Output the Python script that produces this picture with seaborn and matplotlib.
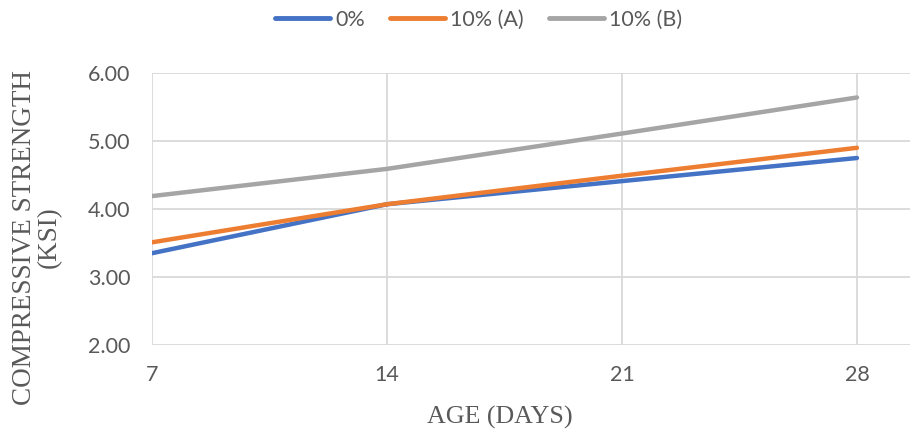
import matplotlib
matplotlib.use("Agg")
import matplotlib.pyplot as plt
import seaborn as sns
import pandas as pd

days = [7, 14, 21, 28]
mix_0 = [3.35, 4.07, 4.41, 4.75]
mix_10a = [3.51, 4.07, 4.49, 4.90]
mix_10b = [4.19, 4.59, 5.11, 5.64]
series_names = ["0%", "10% (A)", "10% (B)"]
colors = ["#4472C4", "#ED7D31", "#A5A5A5"]
y_ticks = [2.0, 3.0, 4.0, 5.0, 6.0]

df = pd.DataFrame({
    "Age": days * 3,
    "Strength": mix_0 + mix_10a + mix_10b,
    "Mix": [n for n in series_names for _ in days],
})

sns.set_theme(style="white")
plt.rcParams["font.family"] = ["Lato", "DejaVu Sans"]

fig, ax = plt.subplots(figsize=(9.13, 4.32), dpi=100)
fig.subplots_adjust(left=152/913, right=910/913, top=1-73/432, bottom=1-345/432)

sns.lineplot(data=df, x="Age", y="Strength", hue="Mix", palette=colors,
             hue_order=series_names, linewidth=3.2, ax=ax, legend=True)
for ln in ax.lines:
    ln.set_solid_capstyle("round")

ax.set_xlim(7, 29.58)
ax.set_ylim(2, 6)
ax.set_xticks(days)
ax.set_yticks(y_ticks)
ax.set_yticklabels([f"{v:.2f}" for v in y_ticks])
ax.grid(True, color="#D9D9D9", linewidth=1.3)
ax.set_axisbelow(True)
for s in ax.spines.values():
    s.set_visible(False)
ax.tick_params(axis="both", length=0, labelsize=15.5, colors="#595959")
ax.tick_params(axis="y", pad=15.5)
ax.tick_params(axis="x", pad=14.5)

serif = ["Liberation Serif", "DejaVu Serif"]
ax.set_xlabel("AGE (DAYS)", fontsize=18.7, family=serif, color="#595959", va="center")
ax.xaxis.set_label_coords(0.459, -0.265)
ax.set_ylabel("COMPRESSIVE STRENGTH\n(KSI)", fontsize=19.5, family=serif,
              color="#595959", linespacing=1.0, va="center")
ax.yaxis.set_label_coords(-0.1517, 0.397)

leg = ax.legend(loc="center", bbox_to_anchor=(0.431, 1.195),
                ncol=3, frameon=False, fontsize=15.5, handlelength=2.55,
                columnspacing=1.15, handletextpad=0.25)
for t in leg.get_texts():
    t.set_color("#595959")
for h in leg.get_lines():
    h.set_linewidth(3.5)
    h.set_solid_capstyle("round")

fig.savefig("out.png", dpi=100)
